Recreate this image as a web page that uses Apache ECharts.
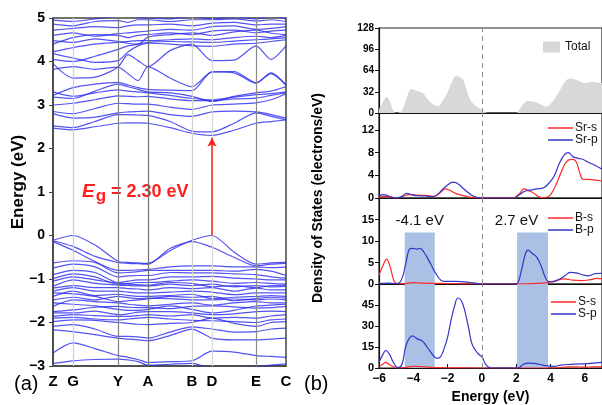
<!DOCTYPE html>
<html><head><meta charset="utf-8">
<script src="https://cdn.jsdelivr.net/npm/echarts@6/dist/echarts.min.js"></script>
<style>html,body{margin:0;padding:0;background:#fff}#c{width:602px;height:405px}</style>
</head><body><div id="c"></div>
<script>
// ---- Band structure data ----
const kLabels = ['Z','G','Y','A','B','D','E','C'];
const kPos = [0,20,65,95,139,159,203,233];
const kSample = [0,20,42,65,75,85,95,117,139,159,181,203,218,233];
const valenceBands = [
 [-0.11,0.00,-0.22,-0.59,-0.62,-0.63,-0.64,-0.35,-0.11,0.00,-0.38,-0.66,-0.63,-0.62],
 [-0.12,-0.25,-0.48,-0.62,-0.64,-0.65,-0.66,-0.30,-0.14,-0.27,-0.50,-0.70,-0.66,-0.64],
 [-0.14,-0.34,-0.60,-0.80,-0.80,-0.79,-0.78,-0.72,-0.70,-0.70,-0.72,-0.72,-0.74,-0.72],
 [-0.63,-0.58,-0.62,-0.86,-0.85,-0.83,-0.80,-0.80,-0.80,-0.80,-0.82,-0.78,-0.82,-0.92],
 [-0.75,-0.66,-0.72,-0.95,-0.93,-0.92,-0.92,-0.85,-0.86,-0.86,-0.88,-0.90,-0.95,-0.98],
 [-0.90,-0.80,-0.85,-1.08,-1.05,-1.02,-1.02,-0.95,-0.95,-0.94,-0.98,-1.00,-1.02,-1.02],
 [-0.99,-0.88,-0.95,-1.12,-1.10,-1.08,-1.08,-1.05,-1.02,-1.05,-1.10,-1.08,-1.10,-1.12],
 [-1.05,-0.95,-1.02,-1.10,-1.12,-1.13,-1.14,-1.08,-1.10,-1.18,-1.15,-1.20,-1.15,-1.14],
 [-1.17,-1.02,-1.10,-1.14,-1.15,-1.16,-1.16,-1.12,-1.15,-1.12,-1.18,-1.15,-1.18,-1.17],
 [-1.21,-1.15,-1.20,-1.20,-1.22,-1.23,-1.25,-1.20,-1.22,-1.20,-1.28,-1.21,-1.25,-1.25],
 [-1.28,-1.20,-1.28,-1.28,-1.30,-1.32,-1.32,-1.30,-1.28,-1.30,-1.36,-1.32,-1.32,-1.32],
 [-1.32,-1.34,-1.40,-1.52,-1.50,-1.48,-1.46,-1.40,-1.42,-1.40,-1.50,-1.45,-1.42,-1.44],
 [-1.40,-1.28,-1.38,-1.35,-1.38,-1.40,-1.40,-1.38,-1.35,-1.45,-1.42,-1.40,-1.38,-1.40],
 [-1.48,-1.42,-1.48,-1.40,-1.43,-1.45,-1.44,-1.45,-1.48,-1.48,-1.46,-1.48,-1.46,-1.48],
 [-1.55,-1.58,-1.62,-1.70,-1.72,-1.72,-1.70,-1.62,-1.70,-1.78,-1.72,-1.62,-1.60,-1.58],
 [-1.63,-1.48,-1.52,-1.55,-1.58,-1.60,-1.62,-1.58,-1.55,-1.60,-1.55,-1.52,-1.55,-1.55],
 [-1.75,-1.71,-1.65,-1.63,-1.65,-1.66,-1.66,-1.68,-1.63,-1.62,-1.64,-1.67,-1.66,-1.63],
 [-1.78,-1.78,-1.74,-1.82,-1.80,-1.76,-1.75,-1.75,-1.78,-1.82,-1.80,-1.75,-1.74,-1.75],
 [-1.86,-1.82,-1.84,-1.86,-1.86,-1.84,-1.82,-1.85,-1.82,-1.90,-1.88,-1.90,-1.85,-1.82],
 [-1.90,-1.88,-1.92,-1.94,-1.92,-1.90,-1.88,-1.92,-1.95,-1.96,-1.98,-2.00,-1.94,-1.92],
 [-1.98,-1.94,-1.95,-2.00,-2.02,-2.04,-2.05,-2.02,-2.00,-1.90,-2.02,-2.09,-2.00,-1.98],
 [-2.09,-2.05,-2.15,-2.32,-2.32,-2.33,-2.36,-2.22,-2.10,-2.15,-2.22,-2.21,-2.15,-2.13],
 [-2.17,-2.21,-2.28,-2.36,-2.38,-2.40,-2.42,-2.30,-2.15,-2.36,-2.40,-2.40,-2.38,-2.36],
 [-2.70,-2.47,-2.60,-2.76,-2.80,-2.85,-2.92,-2.90,-2.88,-2.66,-2.68,-2.76,-2.78,-2.80],
 [-2.94,-2.88,-2.85,-2.84,-2.86,-2.90,-2.98,-2.96,-2.94,-3.05,-3.04,-3.02,-2.98,-2.95]
];
const conductionBands = [
 [2.47,2.43,2.50,2.58,2.59,2.59,2.58,2.48,2.35,2.30,2.42,2.58,2.62,2.66],
 [2.52,2.48,2.62,2.78,2.78,2.77,2.76,2.62,2.40,2.38,2.58,2.82,2.74,2.66],
 [2.80,2.70,2.72,2.82,2.84,2.85,2.86,2.78,2.74,2.84,2.86,2.84,2.78,2.70],
 [2.85,2.80,2.92,3.04,3.03,3.02,3.02,2.95,2.90,3.00,3.02,3.05,3.12,3.26],
 [3.00,3.04,3.12,3.21,3.20,3.19,3.20,3.14,3.10,3.10,3.14,3.16,3.22,3.28],
 [3.18,3.15,3.32,3.48,3.42,3.36,3.30,3.28,3.20,3.08,3.20,3.28,3.32,3.42],
 [3.30,3.20,3.28,3.35,3.32,3.30,3.28,3.22,3.15,3.12,3.18,3.24,3.26,3.30],
 [3.22,3.40,3.48,3.52,3.46,3.40,3.36,3.34,3.33,3.76,3.74,3.50,3.72,3.46],
 [3.95,3.62,3.64,3.87,4.16,4.02,3.88,4.25,4.40,4.02,4.03,4.36,4.05,4.36],
 [3.82,3.88,3.82,3.87,3.72,3.56,3.88,3.62,3.42,3.76,3.77,3.51,3.74,3.46],
 [4.05,4.00,4.12,4.28,4.36,4.40,4.44,4.46,4.45,4.44,4.47,4.50,4.52,4.55],
 [4.18,4.08,3.98,4.02,4.22,4.36,4.42,4.40,4.36,4.35,4.40,4.42,4.46,4.50],
 [4.22,4.32,4.40,4.44,4.46,4.48,4.48,4.50,4.52,4.50,4.55,4.58,4.55,4.60],
 [4.40,4.55,4.62,4.60,4.55,4.60,4.62,4.66,4.62,4.70,4.72,4.66,4.70,4.72],
 [4.48,4.44,4.52,4.46,4.42,4.40,4.56,4.62,4.66,4.60,4.68,4.72,4.65,4.62],
 [4.60,4.66,4.58,4.64,4.66,4.68,4.70,4.74,4.72,4.80,4.82,4.74,4.76,4.80],
 [4.72,4.76,4.80,4.78,4.82,4.84,4.84,4.86,4.82,4.88,4.90,4.84,4.86,4.86],
 [4.86,4.82,4.92,4.94,4.90,4.96,4.96,4.92,4.96,4.96,4.98,4.93,4.96,4.92],
 [4.95,4.92,4.98,5.04,5.04,5.02,5.00,4.98,5.04,4.98,5.04,4.98,5.04,4.98]
];
const gapFrom = 0.0, gapTo = 2.25;
const gapKPos = 159;

// ---- DOS data: [energy, states] ----
const totalDOS = [[-6.0,5],[-5.8,15],[-5.55,24],[-5.35,16],[-5.15,3],[-5.0,0],[-4.8,1],[-4.65,4],[-4.4,22],[-4.1,36],[-3.8,33],[-3.45,30],[-3.2,22],[-2.93,15],[-2.7,11],[-2.55,10.5],[-2.28,19],[-2.0,31],[-1.75,47],[-1.5,56],[-1.3,54],[-1.1,50],[-0.9,36],[-0.72,22],[-0.5,14],[-0.3,9],[0.0,5],[0.2,1],[0.35,0],[2.0,0],[2.2,6],[2.5,16],[2.7,18],[3.0,17],[3.2,16],[3.5,12],[3.75,9.5],[4.0,14],[4.2,20],[4.5,32],[4.8,45],[5.1,52],[5.4,51],[5.7,48],[6.0,45],[6.2,46],[6.4,47],[6.7,46],[7.0,45]];
const srS = [[-6,0.1],[-5.7,0.3],[-5.4,0.2],[-5.0,0],[-4.6,0.3],[-4.2,0.6],[-3.8,0.5],[-3.3,0.45],[-2.8,0.3],[-2.4,1.0],[-2.15,1.6],[-1.9,1.4],[-1.6,0.9],[-1.2,0.5],[-0.8,0.2],[-0.4,0.05],[0,0],[1.8,0],[2.2,0.8],[2.45,1.6],[2.7,1.3],[3.0,0.9],[3.4,0.1],[3.7,0.05],[4.0,0.6],[4.3,2.2],[4.6,4.4],[4.9,6.3],[5.2,6.8],[5.45,6.6],[5.7,4.5],[5.9,3.3],[6.2,3.3],[6.5,3.2],[7.0,3.0]];
const srP = [[-6,0.3],[-5.8,0.6],[-5.6,0.5],[-5.3,0.2],[-5.0,0],[-4.7,0.2],[-4.4,0.8],[-4.2,0.7],[-3.8,0.4],[-3.3,0.35],[-2.9,0.2],[-2.6,0.6],[-2.3,1.5],[-2.0,2.3],[-1.7,2.8],[-1.5,2.7],[-1.2,2.0],[-0.9,1.2],[-0.6,0.5],[-0.3,0.1],[0,0],[1.9,0],[2.2,0.6],[2.5,1.2],[2.8,1.4],[3.2,1.6],[3.6,1.8],[3.9,2.6],[4.2,3.8],[4.5,6.0],[4.8,7.6],[5.05,8.0],[5.3,7.3],[5.6,7.0],[5.9,6.8],[6.2,6.3],[6.5,5.9],[7.0,5.1]];
const bS = [[-6,2.0],[-5.8,4.0],[-5.55,5.8],[-5.35,4.0],[-5.1,0.5],[-4.9,0.05],[-4.5,0.1],[-4.0,0.3],[-3.5,0.2],[-3.0,0.15],[-2.0,0.1],[-1,0.05],[0,0],[2.0,0],[3.0,0.1],[3.8,0.3],[4.3,0.8],[4.8,1.2],[5.3,0.9],[5.8,0.8],[6.3,1.0],[6.7,1.3],[7.0,1.2]];
const bP = [[-6,0.1],[-5.5,0.2],[-5.0,0.1],[-4.8,0.3],[-4.6,2.0],[-4.4,5.5],[-4.2,8.2],[-4.0,8.3],[-3.8,8.1],[-3.6,8.3],[-3.4,7.5],[-3.1,5.5],[-2.9,4.0],[-2.65,2.2],[-2.4,0.9],[-2.2,0.6],[-1.5,0.6],[-1.0,0.5],[-0.5,0.25],[0,0],[2.0,0],[2.15,0.8],[2.35,4.0],[2.55,7.2],[2.7,7.9],[2.9,7.2],[3.2,6.2],[3.45,4.2],[3.65,2.0],[3.85,0.6],[4.1,0.5],[4.4,0.9],[4.8,1.8],[5.15,2.7],[5.5,2.6],[5.9,2.1],[6.2,1.9],[6.6,2.4],[7.0,2.5]];
const sS = [[-6,1.0],[-5.8,2.5],[-5.6,4.0],[-5.4,2.5],[-5.1,0.5],[-4.9,0],[-4.5,0.3],[-4.0,1.2],[-3.5,1.0],[-3.0,0.5],[-2.5,0.2],[-2,0.1],[-1,0.05],[0,0],[4.0,0],[4.5,0.3],[5.0,0.8],[5.5,0.8],[6.0,0.6],[6.5,0.8],[7.0,1.0]];
const sP = [[-6,4],[-5.8,9],[-5.6,12.5],[-5.4,10],[-5.2,5],[-5.0,1],[-4.85,0.5],[-4.65,3],[-4.45,15],[-4.25,21],[-4.05,23],[-3.8,21],[-3.45,19],[-3.2,15],[-2.9,10],[-2.65,7],[-2.45,7.5],[-2.2,14],[-2.0,22],[-1.8,34],[-1.6,44],[-1.4,50],[-1.2,48],[-1.0,41],[-0.8,30],[-0.6,18],[-0.4,13],[-0.2,10],[0,8],[0.2,3],[0.4,0.5],[0.6,0],[2.1,0],[2.4,2.5],[2.7,3.5],[3.0,3.3],[3.4,2.5],[3.8,1.5],[4.2,1.2],[4.6,2.0],[5.0,2.5],[5.5,2.8],[6.0,3.0],[6.5,3.5],[7.0,4.0]];
const vbRegion = [-4.5, -2.75], cbRegion = [2.05, 3.85];
const dosTicks = {total:[0,128,32], sr:[0,15,4], b:[0,20,5], s:[0,60,15]};

const chart = echarts.init(document.getElementById('c'), null, {renderer:'canvas'});
const FONT = 'Liberation Sans, Arial, sans-serif';
const bandColor = 'rgba(40,40,240,0.8)';
const minus = v => String(v).replace('-', '\u2212');

const grids = [
  {left:53, top:18, width:233, height:348, show:true, borderColor:'#444', borderWidth:1.5},
  {left:379, top:28, width:224, height:85, show:true, borderColor:'#222', borderWidth:1.2},
  {left:379, top:113, width:224, height:85, show:true, borderColor:'#222', borderWidth:1.2},
  {left:379, top:198, width:224, height:86, show:true, borderColor:'#222', borderWidth:1.2},
  {left:379, top:284, width:224, height:85, show:true, borderColor:'#222', borderWidth:1.2}
];
const xAxes = [
  {gridIndex:0, type:'value', min:0, max:233, splitLine:{show:false},
   axisLine:{show:true, onZero:false, lineStyle:{color:'#444', width:1.5}},
   axisTick:{show:false},
   axisLabel:{customValues:kPos, formatter:v=>kLabels[kPos.indexOf(v)] ?? '', color:'#000', fontWeight:'bold', fontSize:15, fontFamily:FONT, margin:8}}
];
for (let i=1;i<=4;i++) {
  xAxes.push({gridIndex:i, type:'value', min:-6, max:7, interval:2, splitLine:{show:false},
    axisLine:{show:true, onZero:false, lineStyle:{color:'#111', width:1.2}},
    axisTick:{show:i===4, inside:true, length:4, lineStyle:{color:'#111'}},
    axisLabel:{show:i===4, color:'#000', fontWeight:'bold', fontSize:12, fontFamily:FONT, margin:5, formatter:minus, showMaxLabel:false},
    name: i===4 ? 'Energy (eV)' : '', nameLocation:'middle', nameGap:22,
    nameTextStyle:{color:'#000', fontWeight:'bold', fontSize:14, fontFamily:FONT}});
}
const yAxes = [
  {gridIndex:0, type:'value', min:-3, max:5, interval:1, splitLine:{show:false},
   axisLine:{show:true, onZero:false, lineStyle:{color:'#444', width:1.5}},
   axisTick:{show:true, length:4, lineStyle:{color:'#444'}},
   axisLabel:{color:'#000', fontWeight:'bold', fontSize:14, fontFamily:FONT, margin:8, formatter:minus}}
];
[['total',10],['sr',11],['b',11],['s',11]].forEach(([key,fs],j)=>{
  const t = dosTicks[key];
  yAxes.push({gridIndex:j+1, type:'value', min:t[0], max:t[1], interval:t[2], splitLine:{show:false},
    axisLine:{show:true, onZero:false, lineStyle:{color:'#111', width:1.2}},
    axisTick:{show:true, length:4, lineStyle:{color:'#111'}},
    axisLabel:{color:'#000', fontWeight:'bold', fontSize:fs, fontFamily:FONT, margin:5,
      showMaxLabel: key==='total', formatter: v => (v % t[2] === 0 ? String(v) : '')}});
});

const series = [];
// k-point vertical lines
const kLineColors = {G:'#cfcfcf', Y:'#808080', A:'#707070', B:'#d0d0d0', D:'#d8d8d8', E:'#8a8a8a'};
series.push({type:'line', xAxisIndex:0, yAxisIndex:0, data:[], z:1, silent:true,
  markLine:{silent:true, symbol:'none', animation:false, label:{show:false},
    data: kLabels.slice(1,7).map((n)=>({xAxis:kPos[kLabels.indexOf(n)], lineStyle:{color:kLineColors[n], width:1.2, type:'solid'}}))}});
valenceBands.concat(conductionBands).forEach((b,i)=>{
  series.push({type:'line', name:'band'+i, xAxisIndex:0, yAxisIndex:0, z:2, silent:true,
    data:kSample.map((k,j)=>[k,b[j]]), symbol:'none', smooth:0.25, animation:false,
    lineStyle:{color:bandColor, width:1.2}});
});
// gap arrow
series.push({type:'line', xAxisIndex:0, yAxisIndex:0, data:[], z:5, silent:true,
  markLine:{silent:true, animation:false, symbol:['none','arrow'], symbolSize:[7,9], label:{show:false},
    lineStyle:{color:'#ff1e1e', width:1.5, type:'solid'},
    data:[[{coord:[gapKPos,gapFrom]},{coord:[gapKPos,gapTo]}]]}});

// DOS panels
const zeroLine = {silent:true, symbol:'none', animation:false, label:{show:false},
  lineStyle:{color:'#8c8c8c', type:[5,4], width:1}, data:[{xAxis:0}]};
series.push({type:'line', name:'Total', xAxisIndex:1, yAxisIndex:1, data:totalDOS, symbol:'none', smooth:0.4,
  color:'#d8d8d8', lineStyle:{width:0}, areaStyle:{color:'#d8d8d8', opacity:1}, animation:false, markLine:zeroLine});
const red = '#ff2a2a', blue = '#3434c8';
series.push({type:'line', name:'Sr-s', xAxisIndex:2, yAxisIndex:2, data:srS, symbol:'none', smooth:0.4, color:red, lineStyle:{width:1.2}, animation:false, markLine:zeroLine});
series.push({type:'line', name:'Sr-p', xAxisIndex:2, yAxisIndex:2, data:srP, symbol:'none', smooth:0.4, color:blue, lineStyle:{width:1.2}, animation:false});
series.push({type:'line', xAxisIndex:3, yAxisIndex:3, data:[], z:1, silent:true,
  markLine:zeroLine,
  markArea:{silent:true, itemStyle:{color:'#aac0e4'},
    label:{show:true, position:'top', color:'#111', fontSize:15, fontFamily:FONT, distance:4},
    data:[[{xAxis:vbRegion[0], yAxis:0, name:'-4.1 eV'},{xAxis:vbRegion[1], yAxis:12}],
          [{xAxis:cbRegion[0], yAxis:0, name:'2.7 eV', label:{offset:[-16,0]}},{xAxis:cbRegion[1], yAxis:12}]]}});
series.push({type:'line', name:'B-s', xAxisIndex:3, yAxisIndex:3, data:bS, symbol:'none', smooth:0.4, color:red, lineStyle:{width:1.2}, animation:false});
series.push({type:'line', name:'B-p', xAxisIndex:3, yAxisIndex:3, data:bP, symbol:'none', smooth:0.4, color:blue, lineStyle:{width:1.2}, animation:false});
series.push({type:'line', xAxisIndex:4, yAxisIndex:4, data:[], z:1, silent:true,
  markLine:zeroLine,
  markArea:{silent:true, itemStyle:{color:'#aac0e4'}, data:[[{xAxis:vbRegion[0]},{xAxis:vbRegion[1]}],[{xAxis:cbRegion[0]},{xAxis:cbRegion[1]}]]}});
series.push({type:'line', name:'S-s', xAxisIndex:4, yAxisIndex:4, data:sS, symbol:'none', smooth:0.4, color:red, lineStyle:{width:1.2}, animation:false});
series.push({type:'line', name:'S-p', xAxisIndex:4, yAxisIndex:4, data:sP, symbol:'none', smooth:0.4, color:blue, lineStyle:{width:1.2}, animation:false});

const legTxt = {color:'#111', fontSize:12, fontFamily:FONT, padding:[0,0,0,-3]};
const lineLeg = (names, left, top) => ({data:names.map(n=>({name:n, icon:'rect'})), orient:'vertical', left, top,
  itemWidth:25, itemHeight:1.5, itemGap:0, textStyle:legTxt, selectedMode:false});
const legends = [
  {data:[{name:'Total', icon:'rect'}], left:538, top:36, itemWidth:17, itemHeight:11, itemGap:4, textStyle:{color:'#111', fontSize:12, fontFamily:FONT}, selectedMode:false},
  lineLeg(['Sr-s','Sr-p'], 543, 117),
  lineLeg(['B-s','B-p'], 543, 207),
  lineLeg(['S-s','S-p'], 546, 291)
];

chart.setOption({
  animation:false,
  backgroundColor:'#fff',
  grid:grids, xAxis:xAxes, yAxis:yAxes, series:series, legend:legends,
  graphic:[
    {type:'text', x:18, y:182, rotation:Math.PI/2, style:{text:'Energy (eV)', fill:'#000', font:'bold 17px '+FONT, align:'center', verticalAlign:'middle'}},
    {type:'text', x:318, y:198, rotation:Math.PI/2, style:{text:'Density of States (electrons/eV)', fill:'#000', font:'bold 14px '+FONT, align:'center', verticalAlign:'middle'}},
    {type:'text', x:14, y:384, style:{text:'(a)', fill:'#000', font:'20px '+FONT, verticalAlign:'middle'}},
    {type:'text', x:304, y:384, style:{text:'(b)', fill:'#000', font:'20px '+FONT, verticalAlign:'middle'}},
    {type:'text', x:82, y:192, style:{text:'{e|E}{g|g}{n| = 2.30 eV}', verticalAlign:'middle',
      rich:{e:{fill:'#ff1e1e', font:'italic bold 19px '+FONT}, g:{fill:'#ff1e1e', font:'bold 17px '+FONT, padding:[9,0,0,1]}, n:{fill:'#ff1e1e', font:'bold 18px '+FONT}}}}
  ]
});
</script></body></html>
